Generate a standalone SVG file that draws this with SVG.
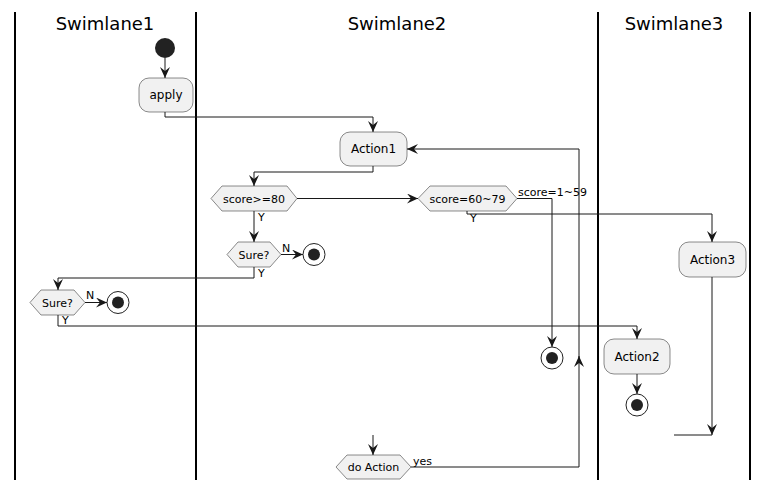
<svg xmlns="http://www.w3.org/2000/svg" width="768" height="490" viewBox="0 0 768 490">
<defs>
<marker id="ah" viewBox="0 0 11 10" refX="11" refY="5" markerWidth="11" markerHeight="10" markerUnits="userSpaceOnUse" orient="auto">
<path d="M0,0 L11,5 L0,10 L4,5 Z" fill="#181818"/>
</marker>
</defs>
<style>
.lane{stroke:#000;stroke-width:2}
.title{font-family:"DejaVu Sans",sans-serif;font-size:18px;fill:#000;text-anchor:middle}
.box{fill:#F1F1F1;stroke:#181818;stroke-width:0.5}
.t12{font-family:"DejaVu Sans",sans-serif;font-size:12px;fill:#000;text-anchor:middle}
.t11{font-family:"DejaVu Sans",sans-serif;font-size:11px;fill:#000;text-anchor:middle}
.lbl{font-family:"DejaVu Sans",sans-serif;font-size:11px;fill:#000}
.c{fill:none;stroke:#181818;stroke-width:1}
.a{marker-end:url(#ah)}
.start{fill:#222222}
.stopo{fill:#fff;stroke:#222222;stroke-width:1}
.stopi{fill:#222222}
</style>
<g id="lanes">
<line class="lane" x1="15" y1="12" x2="15" y2="480"/>
<line class="lane" x1="196" y1="12" x2="196" y2="480"/>
<line class="lane" x1="598" y1="12" x2="598" y2="480"/>
<line class="lane" x1="750" y1="12" x2="750" y2="480"/>
<text class="title" x="105" y="30">Swimlane1</text>
<text class="title" x="397" y="30">Swimlane2</text>
<text class="title" x="674" y="30">Swimlane3</text>
</g>
<g id="connectors">
<polyline class="c a" points="165,58 165,78"/>
<polyline class="c a" points="165,112 165,117 373,117 373,132"/>
<polyline class="c a" points="373,166 373,172 254,172 254,186"/>
<polyline class="c a" points="297,198.5 418,198.5"/>
<polyline class="c a" points="517,198.5 552,198.5 552,347"/>
<polyline class="c a" points="467,211 467,214 712,214 712,242"/>
<polyline class="c a" points="254,211 254,242"/>
<polyline class="c a" points="281,254.5 303,254.5"/>
<polyline class="c a" points="254,267 254,278 58,278 58,290"/>
<polyline class="c a" points="85,302.5 107,302.5"/>
<polyline class="c a" points="58,315 58,326 637,326 637,339"/>
<polyline class="c a" points="637,374 637,394"/>
<polyline class="c a" points="712,277 712,435"/>
<polyline class="c" points="674,435 712,435"/>
<polyline class="c a" points="373,435 373,455"/>
<polyline class="c a" points="411,467 579,467 579,356"/>
<polyline class="c a" points="579,358 579,149 407,149"/>
<text class="lbl" x="518" y="196">score=1~59</text>
<text class="lbl" x="470" y="222">Y</text>
<text class="lbl" x="258" y="221">Y</text>
<text class="lbl" x="282" y="252">N</text>
<text class="lbl" x="258" y="277">Y</text>
<text class="lbl" x="86" y="299">N</text>
<text class="lbl" x="62" y="324">Y</text>
<text class="lbl" x="413" y="465">yes</text>
</g>
<g id="start"><circle class="start" cx="165" cy="48" r="10"/></g>
<g id="apply"><rect class="box" x="139" y="78" width="54" height="34" rx="10"/><text class="t12" x="166" y="99">apply</text></g>
<g id="action1"><rect class="box" x="340" y="132" width="67" height="34" rx="10"/><text class="t12" x="373.5" y="153">Action1</text></g>
<g id="dec_score80"><polygon class="box" points="211,198.5 222,186 287,186 297,198.5 287,211 222,211"/><text class="t11" x="254" y="202.5">score&gt;=80</text></g>
<g id="dec_score60"><polygon class="box" points="418,198.5 430,186 506,186 517,198.5 506,211 430,211"/><text class="t11" x="467.5" y="202.5">score=60~79</text></g>
<g id="dec_sure2"><polygon class="box" points="227,254.5 238,242 270,242 281,254.5 270,267 238,267"/><text class="t11" x="254" y="258.5">Sure?</text></g>
<g id="stop_sure2"><circle class="stopo" cx="314" cy="254.5" r="11"/><circle class="stopi" cx="314" cy="254.5" r="6"/></g>
<g id="dec_sure1"><polygon class="box" points="30,302.5 41,290 74,290 85,302.5 74,315 41,315"/><text class="t11" x="57.5" y="306.5">Sure?</text></g>
<g id="stop_sure1"><circle class="stopo" cx="118" cy="302.5" r="11"/><circle class="stopi" cx="118" cy="302.5" r="6"/></g>
<g id="stop_fail"><circle class="stopo" cx="552" cy="358" r="11"/><circle class="stopi" cx="552" cy="358" r="6"/></g>
<g id="action2"><rect class="box" x="604" y="339" width="66" height="35" rx="10"/><text class="t12" x="637" y="360.5">Action2</text></g>
<g id="stop_action2"><circle class="stopo" cx="637" cy="405" r="11"/><circle class="stopi" cx="637" cy="405" r="6"/></g>
<g id="action3"><rect class="box" x="679" y="242" width="67" height="35" rx="10"/><text class="t12" x="712.5" y="263.5">Action3</text></g>
<g id="dec_doaction"><polygon class="box" points="336,467 347,455 400,455 411,467 400,479 347,479"/><text class="t11" x="373.5" y="471">do Action</text></g>
</svg>
